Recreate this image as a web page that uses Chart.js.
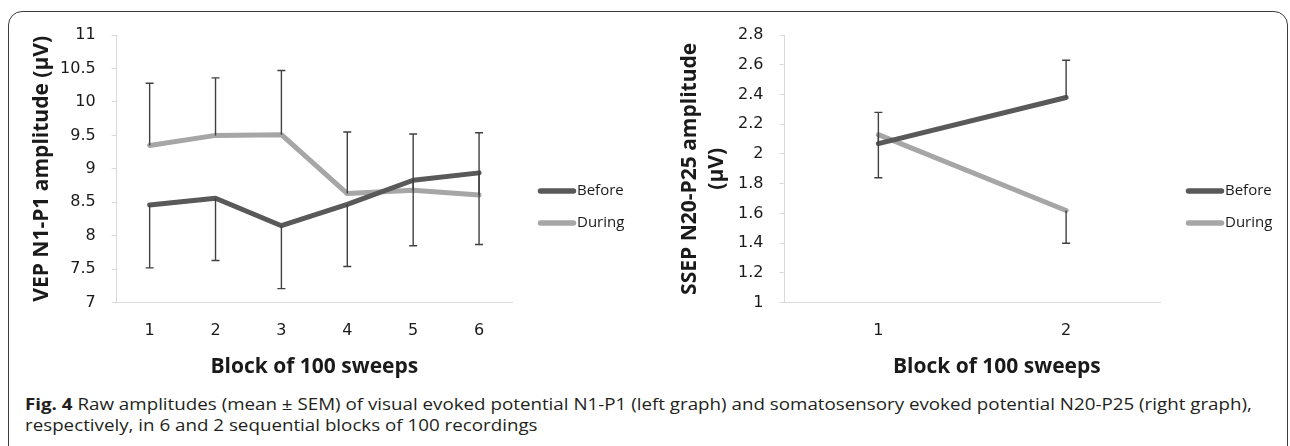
<!DOCTYPE html>
<html>
<head>
<meta charset="utf-8">
<script src="https://cdn.jsdelivr.net/npm/chart.js@4.4.1/dist/chart.umd.min.js"></script>
<style>
  html, body { margin:0; padding:0; background:#fff; width:1290px; height:446px; overflow:hidden; }
  #frame { position:absolute; left:8px; top:11px; width:1280px; height:520px; border:1.5px solid #3c3c3c; border-radius:14px; box-sizing:border-box; }
  canvas { position:absolute; top:0; }
  #c1 { left:0; }
  #c2 { left:645px; }
  #caption { position:absolute; left:25px; top:393px; font-family:'Open Sans', sans-serif; font-size:16.5px; line-height:21px; color:#231f20; white-space:nowrap; transform:scaleX(1.137); transform-origin:0 0; }
  #caption b { font-weight:700; }
</style>
</head>
<body>
<div id="frame"></div>
<canvas id="c1" width="645" height="390"></canvas>
<canvas id="c2" width="645" height="390"></canvas>
<div id="caption"><b>Fig. 4</b> Raw amplitudes (mean ± SEM) of visual evoked potential N1-P1 (left graph) and somatosensory evoked potential N20-P25 (right graph),<br>respectively, in 6 and 2 sequential blocks of 100 recordings</div>
<script>
// ---------- data ----------
const seriesNames = ['Before', 'During'];

const vepBlocks = ['1', '2', '3', '4', '5', '6'];
const vepBefore = [8.46, 8.56, 8.15, 8.47, 8.83, 8.94];
const vepDuring = [9.35, 9.50, 9.51, 8.63, 8.68, 8.61];
const vepBeforeSem = [0.94, 0.93, 0.94, 0.93, 0.98, 1.07]; // drawn downward
const vepDuringSem = [0.93, 0.86, 0.96, 0.92, 0.84, 0.93]; // drawn upward
const vepTicks = [7, 7.5, 8, 8.5, 9, 9.5, 10, 10.5, 11];

const ssepBlocks = ['1', '2'];
const ssepBefore = [2.07, 2.38];
const ssepDuring = [2.13, 1.62];
const ssepBeforeSem = [0.21, 0.25]; // drawn upward
const ssepDuringSem = [0.29, 0.22]; // drawn downward
const ssepTicks = [1, 1.2, 1.4, 1.6, 1.8, 2, 2.2, 2.4, 2.6, 2.8];

const xTitle = 'Block of 100 sweeps';
const vepYTitle = 'VEP N1-P1 amplitude (µV)';
const ssepYTitle = ['SSEP N20-P25 amplitude', '(µV)'];

// ---------- style ----------
const FONT = "'Open Sans', sans-serif";
const TICK_FONT = "'DejaVu Sans', sans-serif";
Chart.defaults.font.family = FONT;
Chart.defaults.color = '#1a1a1a';
const colBefore = '#595959';
const colDuring = '#a6a6a6';
const axisCol = '#d9d9d9';

const errorBarPlugin = {
  id: 'errorBars',
  afterDatasetsDraw(chart) {
    const ctx = chart.ctx;
    const ys = chart.scales.y;
    chart.data.datasets.forEach((ds, i) => {
      const meta = chart.getDatasetMeta(i);
      ctx.save();
      ctx.strokeStyle = '#404040';
      ctx.lineWidth = 1.4;
      meta.data.forEach((pt, j) => {
        const v = ds.data[j];
        const e = ds.sem[j];
        const x = pt.x;
        const y0 = ys.getPixelForValue(v);
        const y1 = ys.getPixelForValue(v + ds.semDir * e);
        ctx.beginPath();
        ctx.moveTo(x, y0); ctx.lineTo(x, y1);
        ctx.moveTo(x - 4, y1); ctx.lineTo(x + 4, y1);
        ctx.stroke();
      });
      ctx.restore();
    });
  }
};

const sideLegend = {
  id: 'sideLegend',
  afterDraw(chart) {
    const ctx = chart.ctx;
    const a = chart.chartArea;
    chart.data.datasets.forEach((ds, i) => {
      const yy = a.top + 156 + i * 32;
      ctx.save();
      ctx.strokeStyle = ds.borderColor;
      ctx.lineWidth = 5.5;
      ctx.lineCap = 'round';
      ctx.beginPath();
      ctx.moveTo(a.right + 28.5, yy);
      ctx.lineTo(a.right + 61.5, yy);
      ctx.stroke();
      ctx.fillStyle = '#1a1a1a';
      ctx.font = "15px " + FONT;
      ctx.textAlign = 'left';
      ctx.textBaseline = 'middle';
      ctx.fillText(ds.label, a.right + 65, yy);
      ctx.restore();
    });
  }
};

function lineSet(label, data, color, sem, dir) {
  return {
    label, data, sem, semDir: dir,
    borderColor: color, backgroundColor: color,
    borderWidth: 5, pointRadius: 0, pointHoverRadius: 0,
    tension: 0, borderCapStyle: 'round', borderJoinStyle: 'round', fill: false
  };
}

function makeChart(id, labels, datasets, ticks, yTitle, xTitleText, yTitleLineHeight, pad, yWidth) {
  return new Chart(document.getElementById(id), {
    type: 'line',
    data: { labels, datasets },
    options: {
      responsive: false,
      animation: false,
      events: [],
      layout: { padding: pad },
      plugins: { legend: { display: false }, tooltip: { enabled: false } },
      scales: {
        x: {
          type: 'category',
          offset: true,
          grid: { display: false, drawTicks: false },
          border: { display: true, color: axisCol, width: 1 },
          ticks: { font: { family: TICK_FONT, size: 16 }, color: '#1a1a1a', padding: 19, maxRotation: 0 },
          title: { display: true, text: xTitleText, font: { size: 21, weight: 'bold' }, color: '#1a1a1a', padding: { top: 4, bottom: 4 } },
          afterFit(s) { s.height = 80.6; }
        },
        y: {
          min: ticks[0],
          max: ticks[ticks.length - 1],
          afterBuildTicks(s) { s.ticks = ticks.map(v => ({ value: v })); },
          grid: { display: true, drawOnChartArea: false, drawTicks: true, tickLength: 5, color: axisCol },
          border: { display: true, color: axisCol, width: 1 },
          ticks: { font: { family: TICK_FONT, size: 16 }, color: '#1a1a1a', padding: 16, callback: v => String(v) },
          title: { display: true, text: yTitle, font: { size: 21, weight: 'bold', lineHeight: yTitleLineHeight }, color: '#1a1a1a', padding: { top: 4, bottom: 4 } },
          afterFit(s) { s.width = yWidth; }
        }
      }
    },
    plugins: [errorBarPlugin, sideLegend]
  });
}

makeChart('c1', vepBlocks, [
  lineSet(seriesNames[0], vepBefore, colBefore, vepBeforeSem, -1),
  lineSet(seriesNames[1], vepDuring, colDuring, vepDuringSem, 1)
], vepTicks, vepYTitle, xTitle, 1.2, { left: 25, top: 35, right: 133, bottom: 6.7 }, 91.7);

makeChart('c2', ssepBlocks, [
  lineSet(seriesNames[0], ssepBefore, colBefore, ssepBeforeSem, 1),
  lineSet(seriesNames[1], ssepDuring, colDuring, ssepDuringSem, -1)
], ssepTicks, ssepYTitle, '         ' + xTitle, 1.3, { left: 27.4, top: 35, right: 130, bottom: 6.7 }, 112.1);
</script>
</body>
</html>
